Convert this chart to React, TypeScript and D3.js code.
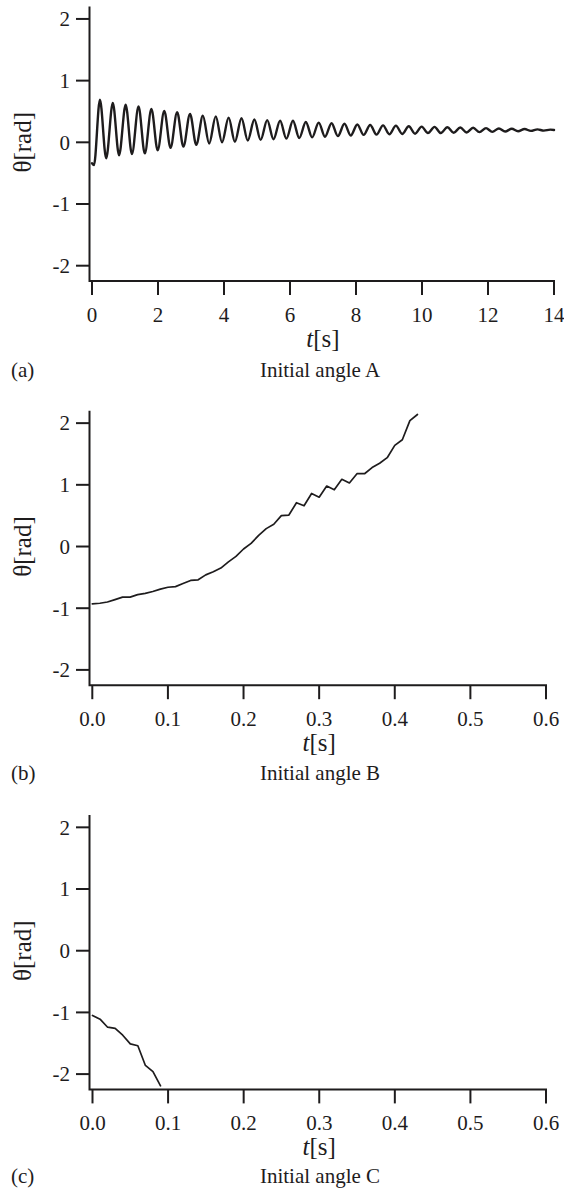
import React from "react";
import * as d3 from "d3";

const W = 564;
const H = 1198;

// ---- Panel (a): initial angle A, damped swing (turning points of θ) ----
const aStartT = [0, 0.06];
const aStartTheta = [-0.34, -0.37];
const aPeakT = [
  0.24, 0.63, 1.02, 1.41, 1.8, 2.19, 2.58, 2.97, 3.36, 3.75, 4.14, 4.53,
  4.92, 5.31, 5.7, 6.09, 6.48, 6.87, 7.26, 7.65, 8.04, 8.43, 8.82, 9.21,
  9.6, 9.99, 10.38, 10.77, 11.16, 11.55, 11.94, 12.33, 12.72, 13.11, 13.5,
  13.89,
];
const aPeakTheta = [
  0.69, 0.64, 0.61, 0.58, 0.54, 0.51, 0.49, 0.46, 0.43, 0.42, 0.4, 0.39,
  0.37, 0.36, 0.35, 0.35, 0.33, 0.32, 0.31, 0.3, 0.29, 0.28, 0.275, 0.27,
  0.26, 0.255, 0.25, 0.245, 0.24, 0.235, 0.23, 0.225, 0.22, 0.215, 0.21,
  0.205,
];
const aTroughT = [
  0.43, 0.82, 1.21, 1.6, 1.99, 2.38, 2.77, 3.16, 3.55, 3.94, 4.33, 4.72,
  5.11, 5.5, 5.89, 6.28, 6.67, 7.06, 7.45, 7.84, 8.23, 8.62, 9.01, 9.4,
  9.79, 10.18, 10.57, 10.96, 11.35, 11.74, 12.13, 12.52, 12.91, 13.3, 13.69,
];
const aTroughTheta = [
  -0.26, -0.21, -0.19, -0.18, -0.13, -0.09, -0.07, -0.04, -0.02, 0.0, 0.01,
  0.03, 0.04, 0.05, 0.06, 0.07, 0.08, 0.09, 0.1, 0.11, 0.12, 0.125, 0.13,
  0.135, 0.14, 0.15, 0.15, 0.155, 0.16, 0.165, 0.17, 0.175, 0.18, 0.185,
  0.19,
];
const aEndT = [14];
const aEndTheta = [0.2];

// ---- Panel (b): initial angle B ----
const bTime = [
  0, 0.01, 0.02, 0.03, 0.04, 0.05, 0.06, 0.07, 0.08, 0.09, 0.1, 0.11, 0.12,
  0.13, 0.14, 0.15, 0.16, 0.17, 0.18, 0.19, 0.2, 0.21, 0.22, 0.23, 0.24,
  0.25, 0.26, 0.27, 0.28, 0.29, 0.3, 0.31, 0.32, 0.33, 0.34, 0.35, 0.36,
  0.37, 0.38, 0.39, 0.4, 0.41, 0.42, 0.43,
];
const bTheta = [
  -0.93, -0.92, -0.9, -0.86, -0.82, -0.82, -0.78, -0.76, -0.73, -0.69, -0.66,
  -0.65, -0.6, -0.55, -0.54, -0.46, -0.41, -0.35, -0.25, -0.16, -0.04, 0.05,
  0.18, 0.29, 0.36, 0.5, 0.51, 0.71, 0.66, 0.86, 0.8, 0.98, 0.92, 1.09, 1.03,
  1.18, 1.18, 1.28, 1.35, 1.44, 1.64, 1.73, 2.04, 2.14,
];

// ---- Panel (c): initial angle C ----
const cTime = [0, 0.01, 0.02, 0.03, 0.04, 0.05, 0.06, 0.07, 0.08, 0.09];
const cTheta = [-1.05, -1.11, -1.24, -1.26, -1.37, -1.51, -1.54, -1.86, -1.96, -2.19];

// ---- axis ticks and captions ----
const thetaTicks = [-2, -1, 0, 1, 2];
const aTimeTicks = [0, 2, 4, 6, 8, 10, 12, 14];
const shortTimeTicks = [0, 0.1, 0.2, 0.3, 0.4, 0.5, 0.6];
const panelTags = ["(a)", "(b)", "(c)"];
const panelCaptions = ["Initial angle A", "Initial angle B", "Initial angle C"];

type Pt = { t: number; v: number };
const zip = (ts: number[], vs: number[]): Pt[] => ts.map((t, i) => ({ t, v: vs[i] }));

const swingA: Pt[] = [
  ...zip(aStartT, aStartTheta),
  ...zip(aPeakT, aPeakTheta),
  ...zip(aTroughT, aTroughTheta),
  ...zip(aEndT, aEndTheta),
].sort((p, q) => p.t - q.t);

const INK = "#1e1c1d";
const FONT = "'Liberation Serif', 'Times New Roman', serif";

const panels = [
  {
    top: 0,
    data: swingA,
    xDomain: [0, 14] as [number, number],
    xRange: [92, 554] as [number, number],
    xTicks: aTimeTicks,
    fmt: (d: number) => String(d),
    curve: d3.curveMonotoneX,
    lineWidth: 2.4,
    tagDy: 96,
  },
  {
    top: 404.2,
    data: zip(bTime, bTheta),
    xDomain: [0, 0.6] as [number, number],
    xRange: [92.3, 546] as [number, number],
    xTicks: shortTimeTicks,
    fmt: d3.format(".1f"),
    curve: d3.curveLinear,
    lineWidth: 1.7,
    tagDy: 95,
  },
  {
    top: 808.4,
    data: zip(cTime, cTheta),
    xDomain: [0, 0.6] as [number, number],
    xRange: [92.5, 546] as [number, number],
    xTicks: shortTimeTicks,
    fmt: d3.format(".1f"),
    curve: d3.curveLinear,
    lineWidth: 1.7,
    tagDy: 94,
  },
];

function Panel({ p, i }: { p: (typeof panels)[number]; i: number }) {
  const axisX = 89.5;
  const bottom = p.top + 281;
  const x = d3.scaleLinear().domain(p.xDomain).range(p.xRange);
  const y = d3
    .scaleLinear()
    .domain([-2.24, 2.2])
    .range([p.top + 280.5, p.top + 6.6]);
  const line = d3
    .line<Pt>()
    .x((d) => x(d.t))
    .y((d) => y(d.v))
    .curve(p.curve);
  const cx = (p.xRange[0] + p.xRange[1]) / 2;
  const xEnd = x(p.xDomain[1]);

  return (
    <g>
      {/* axis lines */}
      <path
        d={`M${axisX},${y(2.2)}V${bottom}H${xEnd + 1}`}
        fill="none"
        stroke={INK}
        strokeWidth={2}
      />
      {/* θ ticks */}
      {thetaTicks.map((v) => (
        <g key={"y" + v}>
          <line x1={axisX - 13.5} x2={axisX} y1={y(v)} y2={y(v)} stroke={INK} strokeWidth={2} />
          <text
            x={70}
            y={y(v) + 7.3}
            textAnchor="end"
            fontFamily={FONT}
            fontSize={21}
            fill={INK}
          >
            {v < 0 ? "-" + Math.abs(v) : String(v)}
          </text>
        </g>
      ))}
      {/* t ticks */}
      {p.xTicks.map((t) => (
        <g key={"x" + t}>
          <line x1={x(t)} x2={x(t)} y1={bottom} y2={bottom + 14} stroke={INK} strokeWidth={2} />
          <text
            x={x(t)}
            y={bottom + 41}
            textAnchor="middle"
            fontFamily={FONT}
            fontSize={21}
            fill={INK}
          >
            {p.fmt(t)}
          </text>
        </g>
      ))}
      {/* axis titles */}
      <text
        transform={`translate(31,${y(0)}) rotate(-90)`}
        textAnchor="middle"
        fontFamily={FONT}
        fontSize={25}
        fill={INK}
      >
        θ[rad]
      </text>
      <text x={cx} y={bottom + 66} textAnchor="middle" fontFamily={FONT} fontSize={25} fill={INK}>
        <tspan fontStyle="italic">t</tspan>[s]
      </text>
      {/* curve */}
      <path
        d={line(p.data) ?? ""}
        fill="none"
        stroke={INK}
        strokeWidth={p.lineWidth}
        strokeLinejoin="round"
        strokeLinecap="round"
      />
      {/* caption */}
      <text x={11} y={bottom + p.tagDy} fontFamily={FONT} fontSize={21} fill={INK}>
        {panelTags[i]}
      </text>
      <text
        x={320}
        y={bottom + p.tagDy}
        textAnchor="middle"
        fontFamily={FONT}
        fontSize={21}
        fill={INK}
      >
        {panelCaptions[i]}
      </text>
    </g>
  );
}

export default function App() {
  return (
    <svg
      width={W}
      height={H}
      viewBox={`0 0 ${W} ${H}`}
      style={{ position: "absolute", left: 0, top: 0, background: "#fff", display: "block" }}
    >
      <rect width={W} height={H} fill="#fff" />
      {panels.map((p, i) => (
        <Panel key={i} p={p} i={i} />
      ))}
    </svg>
  );
}
